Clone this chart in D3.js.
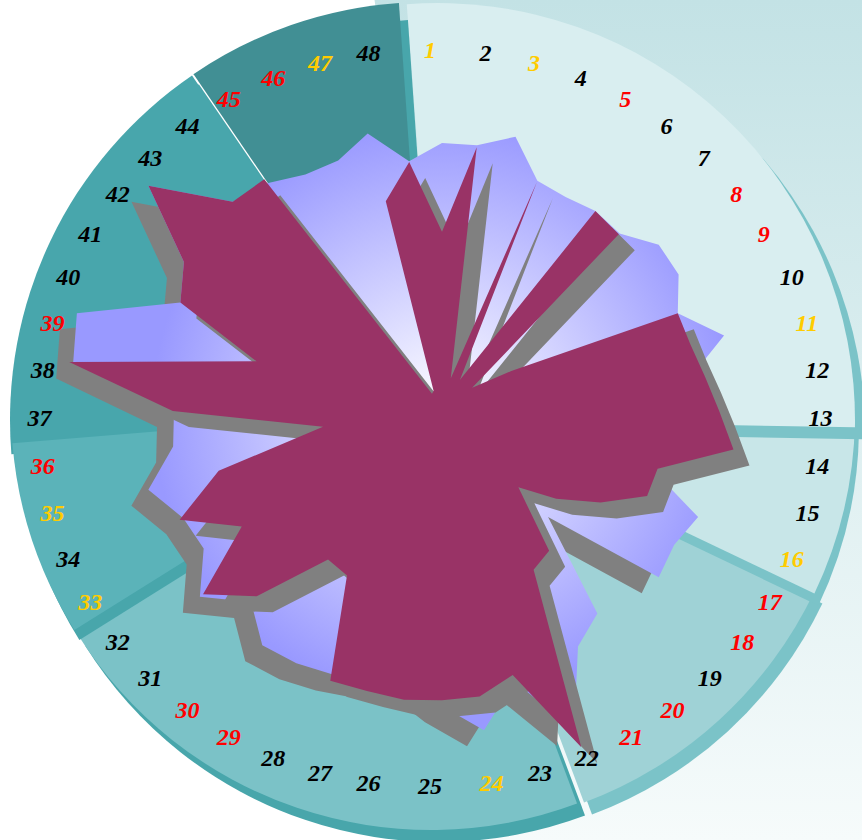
<!DOCTYPE html>
<html><head><meta charset="utf-8">
<script src="https://cdn.jsdelivr.net/npm/d3@7"></script>
<style>html,body{margin:0;padding:0;background:#fff;overflow:hidden}</style>
</head><body>
<svg id="chart" width="862" height="840"></svg>
<script>
// ---------- data ----------
const categories = d3.range(1, 49).map(String);
// lavender radial area (outer series)
const seriesArea = [67, 67, 71, 62.3, 61.8, 63, 62.8, 68.3, 68.3, 63.8,
  73, 62.5, 60, 65, 53.8, 69.3, 67, 68.3, 37.5, 63.8,
  68, 86.3, 70, 80.5, 73.8, 67.5, 70, 71.3, 72.8, 73.8,
  67.5, 76.3, 68.8, 70, 76, 67.8, 67, 93, 94.5, 70.8,
  74.5, 92.5, 74, 71.8, 68.3, 67.8, 71.8, 63];
// maroon radial area (inner series)
const seriesSpike = [44.8, 66.5, 8.5, 62, 9, 63, 62.5, 9.5, 20, 63.8,
  64.3, 66.3, 69.3, 73.5, 55.8, 55.5, 45.8, 36, 27, 44,
  45.8, 91, 68.3, 72, 72.3, 72.8, 72.5, 73, 47.5, 46.8,
  65.5, 75.3, 57.8, 71, 57.8, 30, 67.3, 94, 48, 70.8,
  74.5, 92.5, 74, 73, 5, 5.5, 54.3, 62.8];
// label tone per category: g = gold, k = black, r = red
const labelTone = ["g","k","g","k","r","k","k","r","r","k",
  "g","k","k","k","k","g","r","r","k","r",
  "r","k","k","g","k","k","k","k","r","r",
  "k","k","g","k","g","r","k","k","r","k",
  "k","k","k","k","r","r","g","k"];
// background band spans (degrees)
const bandSpans = [95.3, 24.5, 44, 78.5, 27.3, 60.4, 30.3];

// ---------- styles ----------
const W = 862, H = 840;
const toneColor = {g: "#ffcc00", k: "#000000", r: "#ff0000"};
const bandFill = ["#d9eef0", "#c8e6e8", "#9fd2d6", "#7bc2c7", "#5bb3b9", "#48a6ac", "#418f94"];
const bandShadow = ["#7bc3c8", "#7bc3c8", "#7bc3c8", "#48a6ab", "#48a6ab", "#48a6ac", "#48a6ab"];
const bandShift = [[5,4],[5,-2],[5,-4],[-2,-3],[-5,-7],[-6,4],[-5,3]];
const shadowShift = [[10,12],[4,12],[8,12],[8,12],[5,10],[8,8],[9,17]];
const drawOrder = [2,1,0,3,5,4,6];
const baseC = [433, 416];
const bandR = 417;
const bandStart = -4.3;
const O = [442, 411];
const labelC = [430, 418], labelRx = 378.5, labelRy = 368;

const rad = d => d * Math.PI / 180;
const svg = d3.select("#chart");
const defs = svg.append("defs");

const pg = defs.append("linearGradient").attr("id", "halo")
  .attr("gradientUnits", "userSpaceOnUse")
  .attr("x1", 0).attr("y1", -baseC[1]).attr("x2", 0).attr("y2", H - baseC[1]);
pg.append("stop").attr("offset", 0).attr("stop-color", "#c3e2e5");
pg.append("stop").attr("offset", 1).attr("stop-color", "#f6fbfb");

const lav = defs.append("radialGradient").attr("id", "lav")
  .attr("gradientUnits", "userSpaceOnUse").attr("cx", 0).attr("cy", 0).attr("r", 290);
lav.append("stop").attr("offset", 0).attr("stop-color", "#ffffff");
lav.append("stop").attr("offset", 1).attr("stop-color", "#9999ff");

// halo
svg.append("path")
  .attr("transform", `translate(${baseC[0]},${baseC[1]})`)
  .attr("d", d3.arc()({innerRadius: 0, outerRadius: 1400, startAngle: rad(-8), endAngle: rad(175)}))
  .attr("fill", "url(#halo)");

// background bands
let acc = bandStart;
const bands = bandSpans.map((s, i) => { const a0 = acc; acc += s; return {i, a0, a1: acc}; });
const bandArc = d3.arc().innerRadius(0).outerRadius(bandR)
  .startAngle(d => rad(d.a0)).endAngle(d => rad(d.a1));
const gb = svg.append("g");
drawOrder.forEach(i => {
  const b = bands[i];
  const cx = baseC[0] + bandShift[i][0], cy = baseC[1] + bandShift[i][1];
  gb.append("path").attr("transform", `translate(${cx + shadowShift[i][0]},${cy + shadowShift[i][1]})`)
    .attr("d", bandArc(b)).attr("fill", bandShadow[i]);
  gb.append("path").attr("transform", `translate(${cx},${cy})`)
    .attr("d", bandArc(b)).attr("fill", bandFill[i]);
});
// thin light seam on the last band's leading edge
{
  const i = 6, b = bands[i];
  const cx = baseC[0] + bandShift[i][0], cy = baseC[1] + bandShift[i][1];
  gb.append("path").attr("transform", `translate(${cx},${cy})`)
    .attr("d", d3.lineRadial()([[rad(b.a0), 0], [rad(b.a0), bandR]]))
    .attr("stroke", "#ffffff").attr("stroke-width", 1.3).attr("fill", "none");
}

// radial series
const angle = d3.scaleLinear().domain([0, categories.length]).range([0, 2 * Math.PI]);
const r = d3.scaleLinear().domain([0, 100]).range([0, 400]);
const radial = d3.lineRadial().angle((d, i) => angle(i)).radius(d => r(d)).curve(d3.curveLinearClosed);
const at = (dx, dy) => `translate(${O[0] + dx},${O[1] + dy})`;

svg.append("path").attr("transform", at(-17, 16)).attr("d", radial(seriesArea)).attr("fill", "#808080");
svg.append("path").attr("transform", at(0, 0)).attr("d", radial(seriesArea)).attr("fill", "url(#lav)");
svg.append("path").attr("transform", at(16, 16)).attr("d", radial(seriesSpike)).attr("fill", "#808080");
svg.append("path").attr("transform", at(0, 0)).attr("d", radial(seriesSpike)).attr("fill", "#993366");

// labels
const sideAnchor = i => { const s = Math.sin(angle(i)); return s > 1e-6 ? "start" : (s < -1e-6 ? "end" : "middle"); };
svg.append("g").selectAll("text").data(categories).join("text")
  .attr("x", (d, i) => labelC[0] + labelRx * Math.sin(angle(i)))
  .attr("y", (d, i) => labelC[1] - labelRy * Math.cos(angle(i)))
  .attr("text-anchor", (d, i) => sideAnchor(i)).attr("dominant-baseline", "central")
  .attr("font-family", "'Liberation Serif', 'DejaVu Serif', serif")
  .attr("font-weight", "bold").attr("font-style", "italic").attr("font-size", 24)
  .attr("fill", (d, i) => toneColor[labelTone[i]])
  .text(d => d);
</script>
</body></html>
